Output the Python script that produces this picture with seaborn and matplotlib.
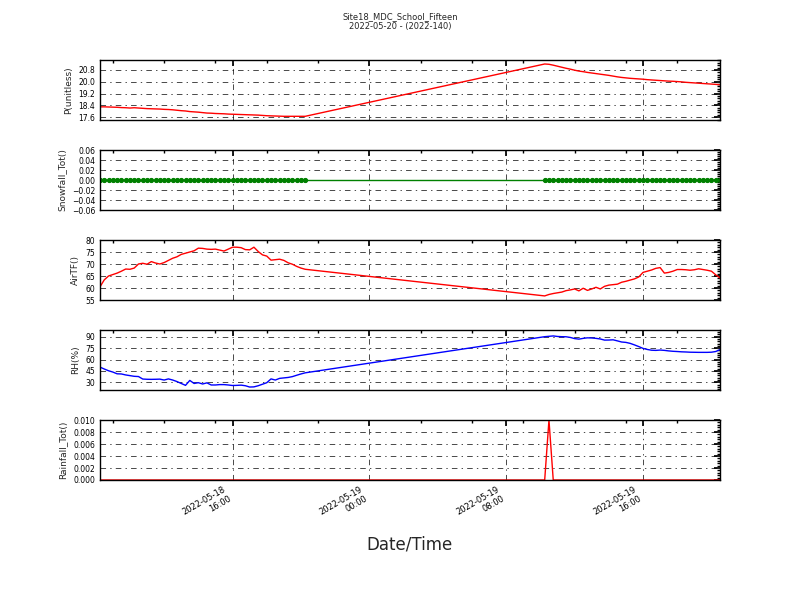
import pandas as pd
import matplotlib
matplotlib.use("Agg")
import matplotlib.pyplot as plt
import matplotlib.dates as mdates
from matplotlib.ticker import MultipleLocator, AutoMinorLocator
import seaborn as sns

# station + day
STATION = "Site18_MDC_School_Fifteen"
DAY_LABEL = "2022-05-20 - (2022-140)"

# two logging blocks at 15 min (gap over night)
times = list(pd.date_range("2022-05-18 08:15", "2022-05-18 20:15", freq="15min")) + \
        list(pd.date_range("2022-05-19 10:15", "2022-05-19 20:30", freq="15min"))

pressure = [
    18.30, 18.30, 18.29, 18.28, 18.27, 18.25, 18.24, 18.22, 18.24, 18.22,
    18.20, 18.18, 18.17, 18.16, 18.15, 18.13, 18.12, 18.10, 18.07, 18.04,
    18.02, 17.98, 17.96, 17.94, 17.91, 17.88, 17.87, 17.85, 17.84, 17.83,
    17.81, 17.80, 17.79, 17.78, 17.77, 17.76, 17.75, 17.74, 17.72, 17.70,
    17.69, 17.68, 17.67, 17.66, 17.66, 17.66, 17.66, 17.66, 17.66,
    21.20, 21.18, 21.12, 21.05, 20.98, 20.91, 20.85, 20.78, 20.72, 20.68,
    20.63, 20.59, 20.55, 20.51, 20.47, 20.43, 20.38, 20.33, 20.29, 20.26,
    20.23, 20.21, 20.19, 20.17, 20.14, 20.12, 20.10, 20.08, 20.06, 20.04,
    20.03, 20.01, 19.99, 19.96, 19.94, 19.92, 19.90, 19.88, 19.86, 19.84,
    19.82, 19.80,
]

snowfall = [0.0] * 91

air_temp = [
    60.5, 63.4, 65.0, 65.6, 66.2, 67.0, 67.9, 67.8, 68.3, 70.0,
    70.3, 69.9, 71.0, 70.4, 70.0, 70.6, 71.5, 72.4, 73.0, 74.0,
    74.5, 75.0, 75.5, 76.6, 76.5, 76.2, 76.1, 76.2, 75.8, 75.4,
    76.2, 77.0, 77.0, 76.8, 76.0, 75.9, 77.0, 75.2, 73.8, 73.3,
    71.6, 71.8, 72.0, 71.5, 70.5, 69.9, 69.0, 68.3, 67.8,
    56.7, 57.3, 57.7, 58.0, 58.3, 58.9, 59.2, 59.6, 58.8, 59.9,
    59.0, 59.6, 60.3, 59.6, 60.7, 61.2, 61.4, 61.6, 62.4, 62.8,
    63.3, 63.8, 64.6, 66.5, 67.0, 67.5, 68.2, 68.5, 66.2, 66.5,
    67.0, 67.7, 67.7, 67.6, 67.4, 67.6, 68.0, 67.7, 67.4, 67.0,
    65.5, 64.2,
]

rel_hum = [
    50.0, 47.5, 45.2, 43.5, 41.2, 41.0, 39.7, 38.8, 37.9, 37.6,
    34.3, 34.0, 33.9, 34.0, 34.2, 33.0, 34.5, 33.0, 31.0, 28.5,
    26.0, 32.5, 28.5, 29.5, 27.8, 29.3, 26.5, 26.5, 27.0, 27.0,
    26.5, 25.8, 26.0, 26.3, 25.5, 23.8, 24.0, 25.5, 27.5, 29.5,
    34.5, 33.0, 35.2, 35.8, 36.4, 37.5, 39.3, 41.0, 42.5,
    90.0, 90.5, 91.0, 90.3, 90.0, 89.9, 89.0, 87.5, 86.8, 87.8,
    88.5, 88.3, 87.8, 87.0, 85.5, 85.6, 85.9, 84.5, 83.0, 82.5,
    81.2, 79.2, 77.0, 74.6, 73.2, 72.2, 72.0, 72.4, 72.0, 71.3,
    70.8, 70.5, 70.1, 69.9, 69.6, 69.5, 69.4, 69.4, 69.4, 69.6,
    70.5, 73.0,
]

rainfall = [0.0] * 91
rainfall[50] = 0.01

df = pd.DataFrame({
    "Date/Time": times,
    "P(unitless)": pressure,
    "Snowfall_Tot()": snowfall,
    "AirTF()": air_temp,
    "RH(%)": rel_hum,
    "Rainfall_Tot()": rainfall,
})

# Plot-Styling (altes matplotlib look)
sns.set_theme(style="white")
plt.rcParams.update({
    "font.family": ["DejaVu Sans"],
    "xtick.direction": "in", "ytick.direction": "in",
    "xtick.top": True, "ytick.right": True,
    "xtick.major.size": 4, "ytick.major.size": 4,
    "xtick.minor.size": 2, "ytick.minor.size": 2,
    "xtick.minor.visible": True, "ytick.minor.visible": True,
    "axes.edgecolor": "black", "axes.linewidth": 1.0,
    "xtick.color": "black", "ytick.color": "black",
    "xtick.labelsize": 6, "ytick.labelsize": 5.5,
    "lines.scale_dashes": False,
})

panels = [
    ("P(unitless)", "red", None, (17.41, 21.47), 0.8),
    ("Snowfall_Tot()", "green", "o", (-0.06, 0.06), 0.02),
    ("AirTF()", "red", None, (55, 80), 5),
    ("RH(%)", "blue", None, (19.9, 98.8), 15),
    ("Rainfall_Tot()", "red", None, (0, 0.01), 0.002),
]

fig, axes = plt.subplots(5, 1, figsize=(8, 6), dpi=100, sharex=True)
fig.subplots_adjust(left=0.125, right=0.9, top=0.9, bottom=0.2, hspace=0.5)

for ax, (col, color, marker, ylim, step) in zip(axes, panels):
    kw = {}
    if marker:
        kw = dict(marker=marker, markersize=3, markeredgecolor=color, markerfacecolor=color)
    sns.lineplot(data=df, x="Date/Time", y=col, ax=ax, color=color, linewidth=1.0, **kw)
    ax.set_ylim(*ylim)
    ax.yaxis.set_major_locator(MultipleLocator(step))
    ax.yaxis.set_minor_locator(AutoMinorLocator(5))
    ax.set_ylabel(col, fontsize=6.5)
    ax.set_xlabel("")
    ax.grid(True, which="major", color="black", linestyle=(0, (4, 3, 1, 3)), linewidth=0.5)
    for s in ax.spines.values():
        s.set_visible(True)

ax = axes[-1]
ax.set_xlim(times[0], times[-1])
ax.xaxis.set_major_locator(mdates.HourLocator(byhour=[0, 8, 16]))
ax.xaxis.set_minor_locator(mdates.HourLocator(byhour=range(0, 24, 3)))
ax.xaxis.set_major_formatter(mdates.DateFormatter("%Y-%m-%d\n%H:%M"))
plt.setp(ax.get_xticklabels(), rotation=30, ha="right")
ax.set_xlabel("Date/Time", fontsize=12, labelpad=7)

fig.suptitle(STATION + "\n" + DAY_LABEL, fontsize=6, y=0.98)

plt.savefig("out.png", dpi=100)
